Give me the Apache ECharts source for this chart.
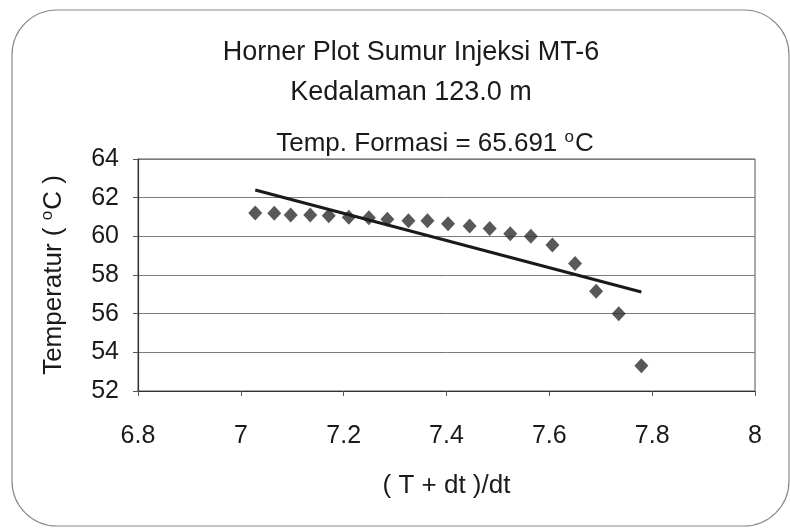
<!DOCTYPE html>
<html>
<head>
<meta charset="utf-8">
<script src="https://cdn.jsdelivr.net/npm/echarts@6/dist/echarts.min.js"></script>
<style>
  html, body { margin: 0; padding: 0; background: #fff; }
  #hornerChart { width: 790px; height: 529px; }
</style>
</head>
<body>
<div id="hornerChart"></div>
<script>
// Horner plot data
const hornerX = [7.028, 7.065, 7.097, 7.135, 7.171, 7.210, 7.249, 7.285, 7.326, 7.363,
  7.403, 7.445, 7.484, 7.524, 7.564, 7.606, 7.650, 7.691, 7.735, 7.779]
const temperatur = [61.21, 61.19, 61.10, 61.10, 61.06, 60.99, 60.96, 60.88, 60.81, 60.80,
  60.65, 60.53, 60.41, 60.13, 60.00, 59.55, 58.60, 57.16, 56.00, 53.30]
// linear trend line ends
const trendX = [7.028, 7.779]
const trendY = [62.40, 57.12]

const fontName = 'Liberation Sans'
const ink = '#1a1a1a'

const myChart = echarts.init(document.getElementById('hornerChart'))
const option = {
  animation: false,
  backgroundColor: '#fff',
  textStyle: { fontFamily: fontName },
  graphic: [
    {
      type: 'rect',
      shape: { x: 12, y: 10, width: 777, height: 516, r: 45 },
      style: { fill: 'none', stroke: '#8a8a8a', lineWidth: 1.2 },
      silent: true
    }
  ],
  title: [
    {
      text: 'Horner Plot Sumur Injeksi MT-6',
      left: 406, top: 34, textAlign: 'center',
      textStyle: { fontSize: 27, fontWeight: 'normal', color: ink, fontFamily: fontName }
    },
    {
      text: 'Kedalaman 123.0 m',
      left: 406, top: 74, textAlign: 'center',
      textStyle: { fontSize: 27, fontWeight: 'normal', color: ink, fontFamily: fontName }
    },
    {
      text: '{n|Temp. Formasi = 65.691 }{s|o}{n|C}',
      left: 430, top: 124, textAlign: 'center',
      textStyle: {
        fontFamily: fontName,
        fontWeight: 'normal',
        rich: {
          n: { fontSize: 26, fontWeight: 'normal', color: ink, fontFamily: fontName },
          s: { fontSize: 17, fontWeight: 'normal', color: ink, fontFamily: fontName, padding: [0, 1, 13, 0] }
        }
      }
    }
  ],
  grid: {
    left: 138, right: 35, top: 159, bottom: 138,
    show: true, borderColor: '#555', borderWidth: 1
  },
  xAxis: {
    type: 'value',
    min: 6.8, max: 8, interval: 0.2,
    name: '( T + dt )/dt',
    nameLocation: 'middle', nameGap: 82,
    nameTextStyle: { fontSize: 26, color: ink, fontFamily: fontName },
    axisLine: { show: true, lineStyle: { color: '#333', width: 1.2 } },
    axisTick: { show: true, length: 5, lineStyle: { color: '#555' } },
    axisLabel: {
      fontSize: 25, color: ink, margin: 33, fontFamily: fontName,
      formatter: v => String(Math.round(v * 10) / 10)
    },
    splitLine: { show: false }
  },
  yAxis: {
    type: 'value',
    min: 52, max: 64, interval: 2,
    name: '{n|Temperatur ( }{s|o}{n|C )}',
    nameLocation: 'middle', nameGap: 69,
    nameTextStyle: {
      fontFamily: fontName,
      rich: {
        n: { fontSize: 26, color: ink, fontFamily: fontName },
        s: { fontSize: 17, color: ink, fontFamily: fontName, padding: [0, 1, 13, 0] }
      }
    },
    axisLine: { show: true, lineStyle: { color: '#333', width: 1.2 } },
    axisTick: { show: true, length: 5, lineStyle: { color: '#555' } },
    axisLabel: { fontSize: 25, color: ink, margin: 19, fontFamily: fontName },
    splitLine: { show: true, lineStyle: { color: '#7a7a7a', width: 1 } }
  },
  series: [
    {
      name: 'Temperatur',
      type: 'scatter',
      symbol: 'diamond',
      symbolSize: [14, 15],
      itemStyle: { color: '#2e2e2e' },
      data: hornerX.map((x, i) => [x, temperatur[i]]),
      z: 3
    },
    {
      name: 'Trend',
      type: 'line',
      symbol: 'none',
      lineStyle: { color: ink, width: 3 },
      data: trendX.map((x, i) => [x, trendY[i]]),
      z: 4
    }
  ]
}
myChart.setOption(option, true)
</script>
</body>
</html>
